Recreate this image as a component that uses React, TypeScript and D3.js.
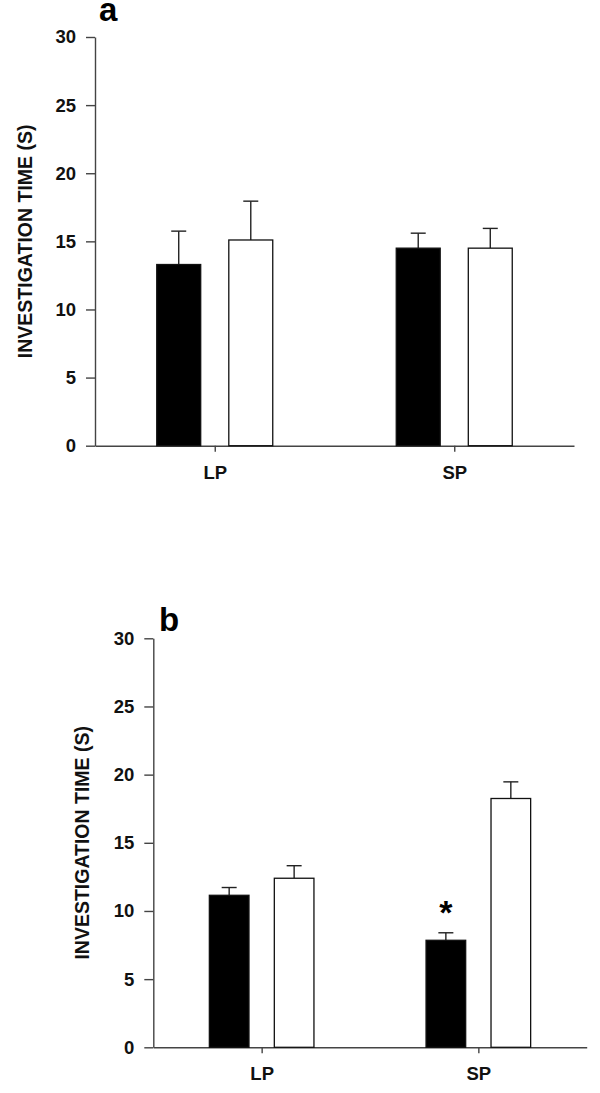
import React, { useEffect, useRef } from "react";
import * as d3 from "d3";

const categories = ["LP", "SP"];
const groups = ["black", "white"];
const yTicks = [0, 5, 10, 15, 20, 25, 30];

// Panel a
const aBlackMeans = [13.3, 14.5];
const aBlackErr = [2.45, 1.1];
const aWhiteMeans = [15.1, 14.5];
const aWhiteErr = [2.85, 1.45];

// Panel b
const bBlackMeans = [11.15, 7.85];
const bBlackErr = [0.57, 0.55];
const bWhiteMeans = [12.4, 18.25];
const bWhiteErr = [0.92, 1.22];

const yLabel = "INVESTIGATION TIME (S)";
const FONT = "'Liberation Sans', Arial, Helvetica, sans-serif";

type PanelCfg = {
  letter: string;
  x0: number;
  x1: number;
  yTop: number;
  yBottom: number;
  halfGroup: number;
  blackMeans: number[];
  blackErr: number[];
  whiteMeans: number[];
  whiteErr: number[];
  labelX: number;
  letterX: number;
  letterY: number;
  stars: boolean[];
};

const panels: PanelCfg[] = [
  {
    letter: "a",
    x0: 95,
    x1: 574,
    yTop: 37,
    yBottom: 445.7,
    halfGroup: 58,
    blackMeans: aBlackMeans,
    blackErr: aBlackErr,
    whiteMeans: aWhiteMeans,
    whiteErr: aWhiteErr,
    labelX: 25,
    letterX: 99,
    letterY: 21,
    stars: [false, false],
  },
  {
    letter: "b",
    x0: 153.3,
    x1: 586.7,
    yTop: 638.3,
    yBottom: 1047.3,
    halfGroup: 52.3,
    blackMeans: bBlackMeans,
    blackErr: bBlackErr,
    whiteMeans: bWhiteMeans,
    whiteErr: bWhiteErr,
    labelX: 81.7,
    letterX: 159,
    letterY: 631,
    stars: [false, true],
  },
];

export default function App() {
  const ref = useRef<SVGSVGElement | null>(null);

  useEffect(() => {
    const svg = d3.select(ref.current);
    svg.selectAll("*").remove();

    panels.forEach((p) => {
      const g = svg.append("g");
      const y = d3.scaleLinear().domain([0, 30]).range([p.yBottom, p.yTop]);
      const x = d3.scalePoint<string>().domain(categories).range([p.x0, p.x1]).padding(0.5);
      const xs = d3
        .scaleBand<string>()
        .domain(groups)
        .range([-p.halfGroup, p.halfGroup])
        .paddingInner(0.39);

      // y axis
      const yAxis = d3
        .axisLeft(y)
        .tickValues(yTicks)
        .tickSize(9)
        .tickSizeOuter(0)
        .tickPadding(10)
        .tickFormat(d3.format("d"));
      const ya = g.append("g").attr("transform", `translate(${p.x0},0)`).call(yAxis);
      ya.select(".domain").attr("stroke", "#444").attr("stroke-width", 1.4);
      ya.selectAll(".tick line").attr("stroke", "#444").attr("stroke-width", 1.4);
      ya.selectAll(".tick text")
        .attr("font-family", FONT)
        .attr("font-weight", "bold")
        .attr("font-size", 18.5)
        .attr("fill", "#111");

      // x axis
      const xAxis = d3.axisBottom(x).tickSize(6).tickSizeOuter(0).tickPadding(14);
      const xa = g.append("g").attr("transform", `translate(0,${p.yBottom})`).call(xAxis);
      xa.select(".domain").attr("stroke", "#444").attr("stroke-width", 1.4);
      xa.selectAll(".tick line").attr("stroke", "#444").attr("stroke-width", 1.4);
      xa.selectAll(".tick text")
        .attr("font-family", FONT)
        .attr("font-weight", "bold")
        .attr("font-size", 18.5)
        .attr("fill", "#111");

      const series = [
        { key: "black", means: p.blackMeans, errs: p.blackErr, fill: "#000" },
        { key: "white", means: p.whiteMeans, errs: p.whiteErr, fill: "#fff" },
      ];

      series.forEach((s) => {
        categories.forEach((c, i) => {
          const bx = (x(c) as number) + (xs(s.key) as number);
          const bw = xs.bandwidth();
          const cx = bx + bw / 2;
          const top = y(s.means[i]);
          const errTop = y(s.means[i] + s.errs[i]);
          // error bar
          g.append("line")
            .attr("x1", cx)
            .attr("x2", cx)
            .attr("y1", top)
            .attr("y2", errTop)
            .attr("stroke", "#222")
            .attr("stroke-width", 1.4);
          g.append("line")
            .attr("x1", cx - 7.5)
            .attr("x2", cx + 7.5)
            .attr("y1", errTop)
            .attr("y2", errTop)
            .attr("stroke", "#222")
            .attr("stroke-width", 1.4);
          // bar
          g.append("rect")
            .attr("x", bx)
            .attr("y", top)
            .attr("width", bw)
            .attr("height", p.yBottom - top)
            .attr("fill", s.fill)
            .attr("stroke", "#111")
            .attr("stroke-width", 1.3);
          if (s.key === "black" && p.stars[i]) {
            g.append("text")
              .attr("x", cx)
              .attr("y", errTop - 9)
              .attr("text-anchor", "middle")
              .attr("font-family", FONT)
              .attr("font-weight", "bold")
              .attr("font-size", 34)
              .attr("fill", "#000")
              .text("*");
          }
        });
      });

      // y label
      g.append("text")
        .attr("transform", `translate(${p.labelX},${(p.yTop + p.yBottom) / 2}) rotate(-90)`)
        .attr("text-anchor", "middle")
        .attr("dy", "0.36em")
        .attr("font-family", FONT)
        .attr("font-weight", "bold")
        .attr("font-size", 19.5)
        .attr("fill", "#111")
        .text(yLabel);

      // panel letter
      g.append("text")
        .attr("x", p.letterX)
        .attr("y", p.letterY)
        .attr("font-family", FONT)
        .attr("font-weight", "bold")
        .attr("font-size", 33)
        .attr("fill", "#000")
        .text(p.letter);
    });
  }, []);

  return (
    <svg
      ref={ref}
      width={600}
      height={1093}
      style={{ position: "absolute", left: 0, top: 0, background: "#fff" }}
    />
  );
}
